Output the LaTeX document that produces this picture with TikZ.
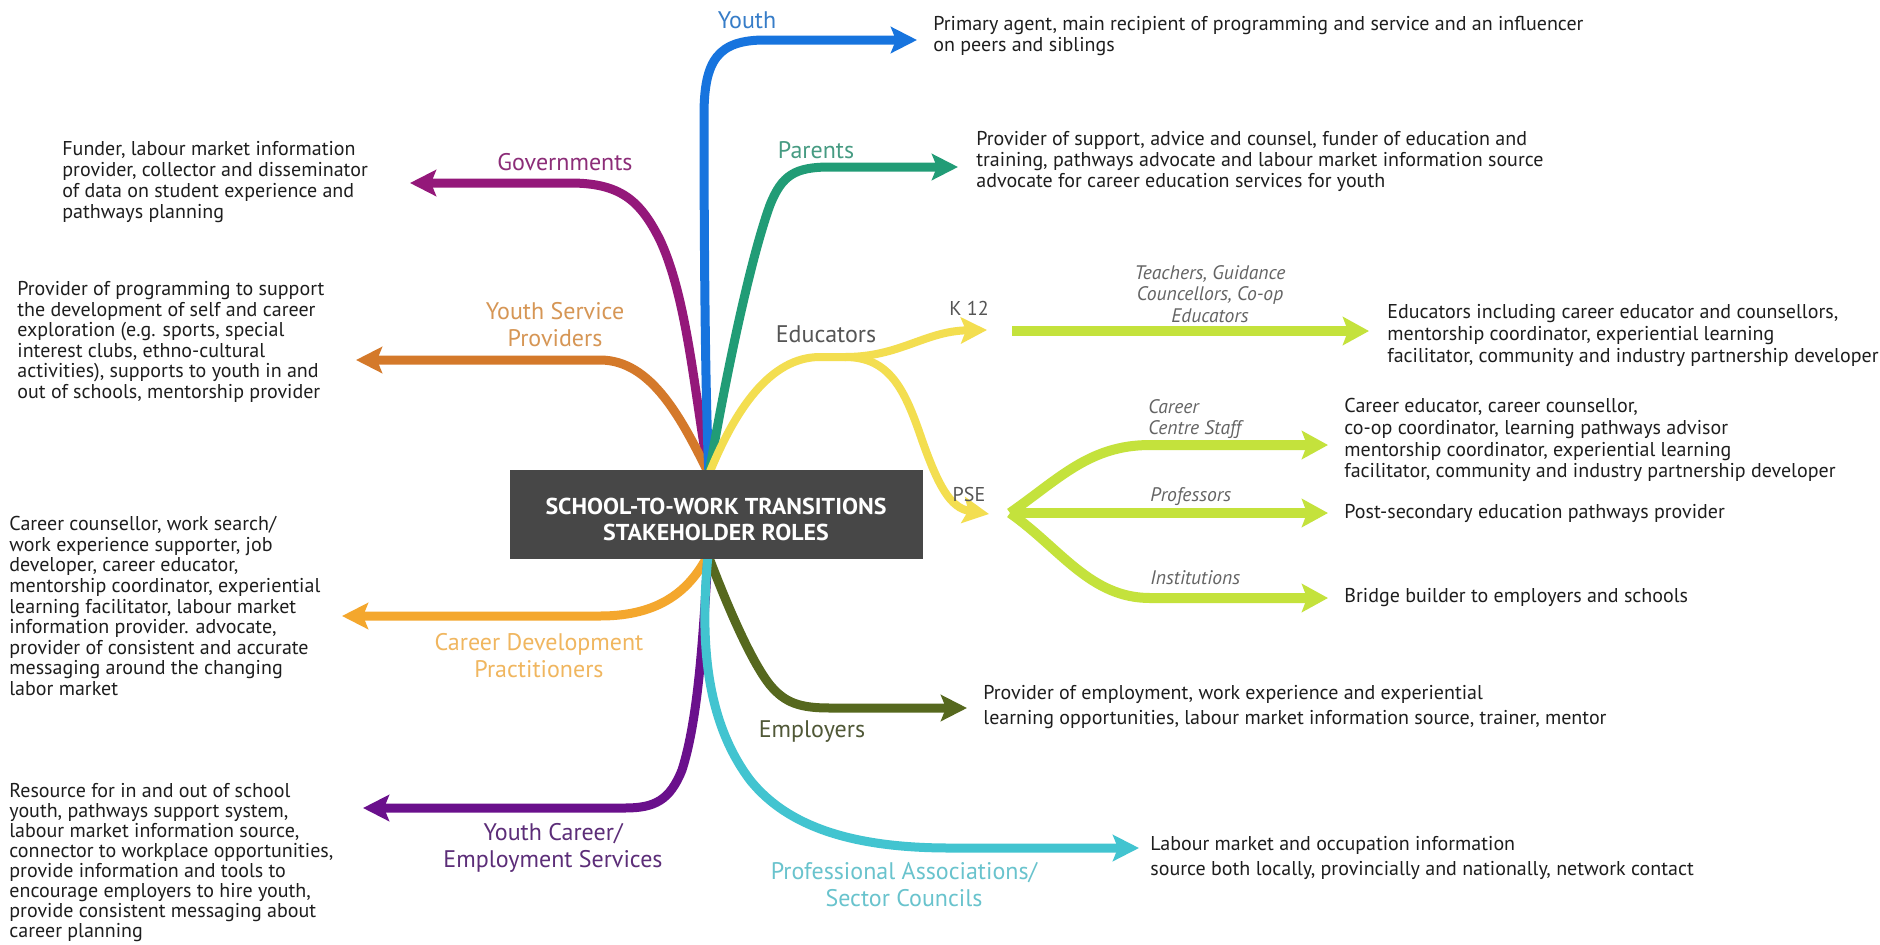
\documentclass[tikz,border=0pt]{standalone}
\usepackage{fontspec}
\setmainfont{PT Sans}
\newfontfamily\boxfont[FakeStretch=1.04]{PT Sans}
\usetikzlibrary{arrows.meta}
\definecolor{cYouth}{RGB}{23,116,222}
\definecolor{cYouthLab}{RGB}{55,125,200}
\definecolor{cParents}{RGB}{33,156,118}
\definecolor{cParentsLab}{RGB}{70,155,130}
\definecolor{cGov}{RGB}{148,24,122}
\definecolor{cGovLab}{RGB}{140,45,120}
\definecolor{cYSP}{RGB}{212,121,42}
\definecolor{cYSPLab}{RGB}{214,150,85}
\definecolor{cEdu}{RGB}{243,222,80}
\definecolor{cLime}{RGB}{196,226,60}
\definecolor{cCDP}{RGB}{244,167,45}
\definecolor{cCDPLab}{RGB}{240,182,95}
\definecolor{cYCES}{RGB}{106,16,140}
\definecolor{cYCESLab}{RGB}{92,45,120}
\definecolor{cEmp}{RGB}{86,104,30}
\definecolor{cEmpLab}{RGB}{80,88,55}
\definecolor{cPA}{RGB}{66,196,208}
\definecolor{cPALab}{RGB}{105,195,205}
\definecolor{boxgray}{RGB}{71,71,71}
\definecolor{descgray}{RGB}{30,30,30}
\definecolor{italgray}{RGB}{100,100,100}
\definecolor{labgray}{RGB}{85,85,85}
\tikzset{
  conn/.style={line width=4.5pt, -{Stealth[length=13pt,width=13pt,inset=2.5pt]}},
  plain/.style={line width=4pt},
  limeconn/.style={line width=5pt, cLime, -{Stealth[length=13pt,width=14pt,inset=2.5pt]}},
  lab/.style={font=\fontsize{12}{13.5}\selectfont, align=center, inner sep=0pt},
  small/.style={font=\fontsize{10}{12}\selectfont, inner sep=0pt, text=labgray},
  ital/.style={font=\itshape\fontsize{9.8}{10.6}\selectfont, inner sep=0pt, text=italgray},
  desc/.style={font=\fontsize{10}{10.5}\selectfont, align=left, anchor=north west, inner sep=0pt, text=descgray},
  descw/.style={font=\fontsize{10}{12.5}\selectfont, align=left, anchor=north west, inner sep=0pt, text=descgray},
  hubbox/.style={fill=boxgray, minimum width=206.5pt, minimum height=44.5pt, inner sep=0pt},
  hubtext/.style={text=white, font=\boxfont\bfseries\fontsize{11.5}{13}\selectfont, align=center, inner sep=0pt}
}
\begin{document}
\begin{tikzpicture}[x=0.5pt,y=-0.5pt]
\fill[white] (0,0) rectangle (1880,944);
\useasboundingbox (0,0) rectangle (1880,944);

% hub points and arrow ends
\coordinate (ht) at (709,474);
\coordinate (hb) at (708,555);
\coordinate (tYouth) at (917,40);
\coordinate (tParents) at (958,167);
\coordinate (tGov) at (410,183);
\coordinate (tYSP) at (356,360);
\coordinate (edJ) at (845,357);
\coordinate (tK12) at (987,330);
\coordinate (tPSE) at (989,514);
\coordinate (k12L) at (1012,331);
\coordinate (tK12b) at (1369,331);
\coordinate (fork) at (1010,513);
\coordinate (tCC) at (1328,445);
\coordinate (tProf) at (1328,513);
\coordinate (tInst) at (1328,598);
\coordinate (tCDP) at (342,616);
\coordinate (tYCES) at (363,808);
\coordinate (tEmp) at (967,708);
\coordinate (tPA) at (1139,848);

% upper branches
\draw[conn, cGov] (ht) .. controls (695,400) and (688,300) .. (660,240) .. controls (640,200) and (620,183) .. (570,183) -- (tGov);
\draw[conn, cYSP] (ht) .. controls (682,420) and (652,360) .. (600,360) -- (tYSP);
\draw[conn, cYouth] (ht) .. controls (705,400) and (704,220) .. (704,115) .. controls (704,60) and (718,40) .. (765,40) -- (tYouth);
\draw[conn, cParents] (ht) .. controls (725,380) and (750,260) .. (770,205) .. controls (782,175) and (795,167) .. (830,167) -- (tParents);
\draw[plain, cEdu] (ht) .. controls (735,410) and (770,357) .. (820,357) -- (edJ);
\draw[conn, cEdu, line width=4pt] (edJ) .. controls (900,357) and (925,331) .. (tK12);
\draw[conn, cEdu, line width=4pt] (edJ) .. controls (890,357) and (905,390) .. (922,440) .. controls (938,485) and (950,508) .. (tPSE);

% lime branches
\draw[limeconn] (k12L) -- (tK12b);
\draw[limeconn] (fork) .. controls (1060,478) and (1090,445) .. (1150,445) -- (tCC);
\draw[limeconn] (fork) -- (tProf);
\draw[limeconn] (fork) .. controls (1060,548) and (1090,598) .. (1150,598) -- (tInst);

% lower branches
\draw[conn, cCDP] (hb) .. controls (690,590) and (660,616) .. (600,616) -- (tCDP);
\draw[conn, cYCES] (hb) .. controls (703,640) and (698,720) .. (682,770) .. controls (670,800) and (655,808) .. (625,808) -- (tYCES);
\draw[conn, cEmp] (hb) .. controls (725,600) and (750,660) .. (770,685) .. controls (785,703) and (800,708) .. (830,708) -- (tEmp);
\draw[conn, cPA] (hb) .. controls (700,640) and (705,720) .. (750,780) .. controls (790,830) and (860,848) .. (950,848) -- (tPA);

% central box
\node[hubbox] (box) at (716.5,514.5) {};
\node[hubtext] (boxtext) at (716,519) {SCHOOL-TO-WORK TRANSITIONS\\STAKEHOLDER ROLES};

% stakeholder labels
\node[lab, text=cYouthLab] (lYouth) at (747,20) {Youth};
\node[lab, text=cParentsLab] (lParents) at (816,150) {Parents};
\node[lab, text=cGovLab] (lGov) at (565,162) {Governments};
\node[lab, text=cYSPLab] (lYSP) at (555,325) {Youth Service\\Providers};
\node[lab, text=labgray] (lEdu) at (826,334) {Educators};
\node[small] (lK12) at (969,308) {K 12};
\node[small] (lPSE) at (969,494) {PSE};
\node[lab, text=cCDPLab] (lCDP) at (539,656) {Career Development\\Practitioners};
\node[lab, text=cYCESLab] (lYCES) at (553,848) {Youth Career/\\Employment Services};
\node[lab, text=cEmpLab] (lEmp) at (812,732) {Employers};
\node[lab, text=cPALab] (lPA) at (904,885) {Professional Associations/\\Sector Councils};

% italic sub-labels
\node[ital, align=center] (lTeach) at (1210,294) {Teachers, Guidance\\Councellors, Co-op\\Educators};
\node[ital, align=left, anchor=west] (lCC) at (1148,419) {Career\\Centre Staff};
\node[ital, anchor=west] (lProf) at (1150,497) {Professors};
\node[ital, anchor=west] (lInst) at (1150,578) {Institutions};

% descriptions
\node[desc] (dYouth) at (933,16) {Primary agent, main recipient of programming and service and an influencer\\on peers and siblings};
\node[desc] (dParents) at (976,131) {Provider of support, advice and counsel, funder of education and\\training, pathways advocate and labour market information source\\advocate for career education services for youth};
\node[desc] (dGov) at (62,141) {Funder, labour market information\\provider, collector and disseminator\\of data on student experience and\\pathways planning};
\node[desc, font=\fontsize{10}{10.3}\selectfont] (dYSP) at (17,281) {Provider of programming to support\\the development of self and career\\exploration (e.g. sports, special\\interest clubs, ethno-cultural\\activities), supports to youth in and\\out of schools, mentorship provider};
\node[desc, font=\fontsize{10}{11}\selectfont] (dK12) at (1387,304) {Educators including career educator and counsellors,\\mentorship coordinator, experiential learning\\facilitator, community and industry partnership developer};
\node[desc, font=\fontsize{10}{10.85}\selectfont] (dCC) at (1344,398) {Career educator, career counsellor,\\co-op coordinator, learning pathways advisor\\mentorship coordinator, experiential learning\\facilitator, community and industry partnership developer};
\node[desc, anchor=west] (dProf) at (1344,513) {Post-secondary education pathways provider};
\node[desc, anchor=west] (dInst) at (1344,598) {Bridge builder to employers and schools};
\node[desc, font=\fontsize{10}{10.3}\selectfont] (dCDP) at (9,516) {Career counsellor, work search/\\work experience supporter, job\\developer, career educator,\\mentorship coordinator, experiential\\learning facilitator, labour market\\information provider. advocate,\\provider of consistent and accurate\\messaging around the changing\\labor market};
\node[desc, font=\fontsize{10}{10}\selectfont] (dYCES) at (9,783) {Resource for in and out of school\\youth, pathways support system,\\labour market information source,\\connector to workplace opportunities,\\provide information and tools to\\encourage employers to hire youth,\\provide consistent messaging about\\career planning};
\node[descw] (dEmp) at (983,685) {Provider of employment, work experience and experiential\\learning opportunities, labour market information source, trainer, mentor};
\node[descw] (dPA) at (1150,836) {Labour market and occupation information\\source both locally, provincially and nationally, network contact};
\end{tikzpicture}
\end{document}
